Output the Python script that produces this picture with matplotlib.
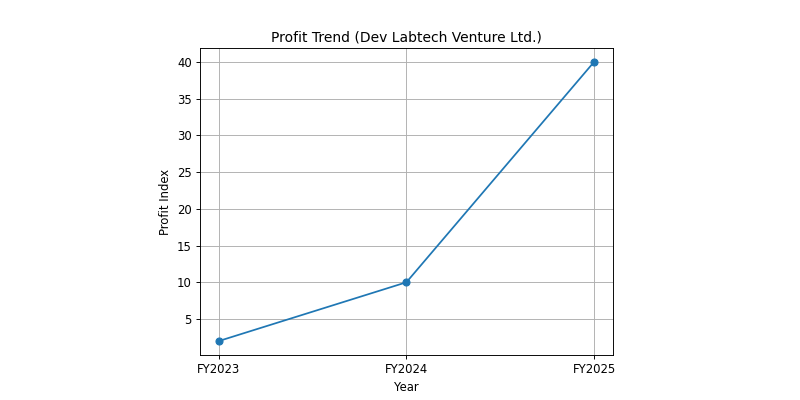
import matplotlib
matplotlib.use("Agg")
import matplotlib.pyplot as plt

# data
years = ["FY2023", "FY2024", "FY2025"]
profit_index = [2, 10, 40]

# reference looks like a default 9.6x4.8 figure shrunk to 800x400
fig = plt.figure(figsize=(9.6, 4.8), dpi=800 / 9.6)
ax = fig.add_axes([0.25, 0.1125, 0.516, 0.7675])

ax.plot(years, profit_index, marker="o", color="#1f77b4")
ax.set_title("Profit Trend (Dev Labtech Venture Ltd.)")
ax.set_xlabel("Year")
ax.set_ylabel("Profit Index")
ax.set_yticks([5, 10, 15, 20, 25, 30, 35, 40])
ax.grid(True)

fig.savefig("out.png")
